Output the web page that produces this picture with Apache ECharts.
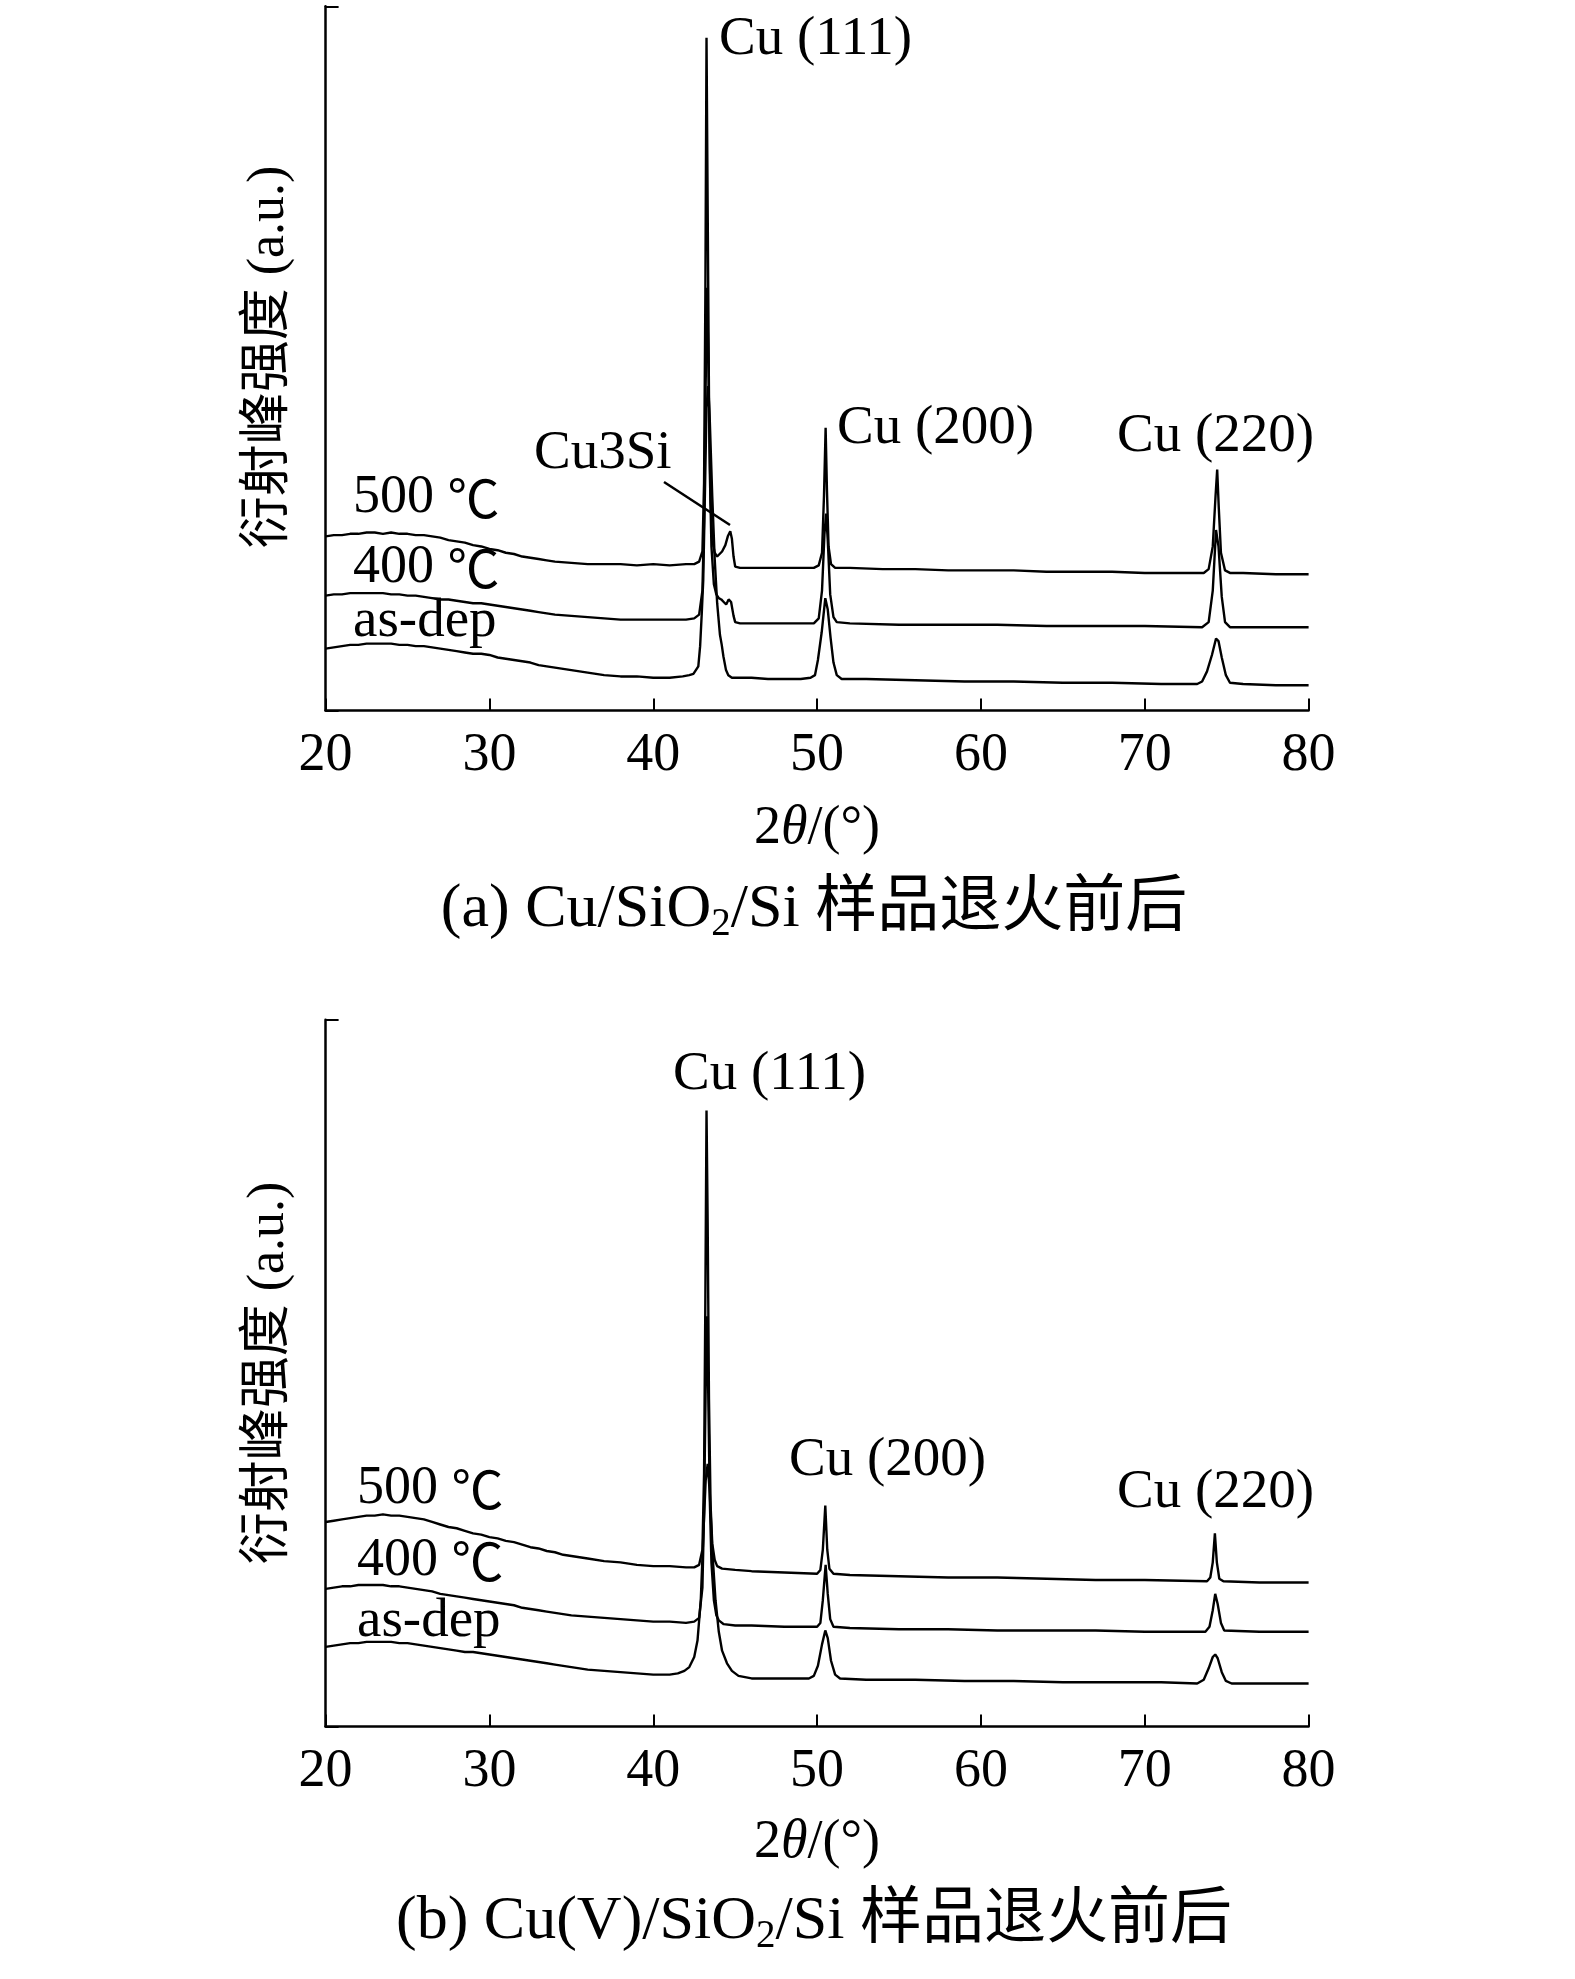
<!DOCTYPE html>
<html>
<head>
<meta charset="utf-8">
<script src="https://cdn.jsdelivr.net/npm/echarts@6/dist/echarts.min.js"></script>
<style>
html,body{margin:0;padding:0;background:#fff;}
#c{width:1575px;height:1979px;}
</style>
</head>
<body>
<div id="c"></div>
<script>
// ---- data: [2theta (deg), intensity (a.u., stacked offset as drawn)] ----
const X_TICKS = [20, 30, 40, 50, 60, 70, 80];

// (a) Cu/SiO2/Si
const A_500 = [
[20,138],[20.5,139],[21,139],[21.5,140],[22,140],[22.5,141],[23,141],[23.5,140],[24,141],[24.5,140],
[25,140],[25.5,139],[26,139],[26.5,138],[27,137],[27.5,135],[28,134],[28.5,133],[29,131],[29.5,130],
[30,128],[30.5,127],[31,125],[31.5,124],[32,122],[32.5,121],[33,120],[33.5,119],[34,118],[35,117],
[36,116],[37,116],[38,116],[39,115],[40,116],[41,115],[42,116],[42.5,116],[42.8,118],[43.0,126],
[43.1,180],[43.18,330],[43.25,533],[43.32,400],[43.4,250],[43.5,165],[43.6,135],[43.75,125],[43.9,122],
[44.0,123],[44.2,126],[44.4,131],[44.55,138],[44.7,142],[44.8,136],[44.9,122],[45.0,114],[45.3,113],
[46,113],[47,113],[48,113],[49,113],[49.8,113],[50.1,115],[50.3,125],[50.42,170],[50.52,224],[50.6,175],
[50.7,130],[50.85,116],[51.1,113],[52,113],[54,112],[56,112],[58,111],[60,111],[62,111],[64,110],
[66,110],[68,110],[70,109],[72,109],[73.6,109],[73.9,112],[74.15,130],[74.32,170],[74.42,191],[74.52,160],
[74.65,125],[74.9,111],[75.2,109],[76,109],[78,108],[80,108]
];
const A_400 = [
[20,91],[20.5,92],[21,92],[21.5,93],[22,93],[22.5,93],[23,93],[23.5,93],[24,92],[24.5,92],
[25,91],[25.5,91],[26,90],[26.5,89],[27,88],[27.5,88],[28,87],[28.5,86],[29,85],[29.5,85],
[30,84],[30.5,83],[31,82],[31.5,81],[32,80],[32.5,79],[33,78],[33.5,77],[34,76],[35,75],
[36,74],[37,73],[38,72],[39,72],[40,72],[41,72],[42,72],[42.5,73],[42.8,76],[43.0,95],
[43.1,150],[43.2,260],[43.28,335],[43.36,280],[43.45,190],[43.55,130],[43.7,100],[43.85,92],[44.0,89],
[44.15,88],[44.3,86],[44.45,84],[44.6,88],[44.75,86],[44.9,75],[45.0,70],[45.3,69],[46,69],[48,69],
[49.8,69],[50.1,73],[50.3,95],[50.45,140],[50.55,156],[50.65,135],[50.8,92],[51.0,74],[51.2,70],[52,69],
[55,68],[58,68],[61,68],[64,67],[67,67],[70,67],[73.5,66],[73.9,70],[74.15,95],[74.35,143],
[74.5,130],[74.7,90],[74.9,70],[75.2,66],[77,66],[80,66]
];
const A_ASDEP = [
[20,49],[20.5,50],[21,51],[21.5,52],[22,52],[22.5,53],[23,53],[23.5,53],[24,53],[24.5,52],
[25,52],[25.5,51],[26,51],[26.5,50],[27,49],[27.5,48],[28,47],[28.5,46],[29,45],[29.5,45],
[30,44],[30.5,42],[31,41],[31.5,40],[32,39],[32.5,38],[33,36],[33.5,35],[34,34],[35,32],
[36,30],[37,28],[38,27],[39,27],[40,26],[41,26],[41.8,27],[42.2,28],[42.45,29],[42.75,35],
[42.86,51],[42.96,77],[43.05,103],[43.15,170],[43.25,240],[43.35,257],[43.45,230],[43.6,170],[43.75,120],
[43.9,85],[44.07,60],[44.18,52],[44.28,43],[44.44,32],[44.58,28],[44.8,26],[45.2,26],[46,26],[47,25],
[48,25],[49,25],[49.6,26],[49.87,28],[50.05,40],[50.28,62],[50.5,89],[50.65,80],[50.82,58],[51.0,38],
[51.2,28],[51.5,25],[53,25],[56,24],[59,23],[62,23],[65,22],[68,22],[71,21],[73.2,21],
[73.5,23],[73.8,31],[74.1,44],[74.35,57],[74.5,55],[74.7,42],[74.95,28],[75.2,22],[76,21],[78,20],[80,20]
];

// (b) Cu(V)/SiO2/Si
const B_500 = [
[20,162],[20.5,163],[21,164],[21.5,165],[22,166],[22.5,167],[23,167],[23.5,168],[24,167],[24.5,167],
[25,166],[25.5,165],[26,164],[26.5,162],[27,160],[27.5,158],[28,157],[28.5,155],[29,153],[29.5,152],
[30,150],[30.5,149],[31,147],[31.5,146],[32,144],[32.5,142],[33,141],[33.5,139],[34,138],[34.5,136],
[35,135],[36,133],[37,131],[38,130],[39,128],[40,127],[41,127],[42,126],[42.5,126],[42.8,128],
[43.0,140],[43.1,200],[43.18,340],[43.25,488],[43.32,400],[43.4,260],[43.5,175],[43.6,145],[43.75,132],
[43.9,127],[44.2,125],[45,124],[46,123],[48,122],[50,121],[50.2,124],[50.35,140],[50.5,175],[50.62,140],
[50.75,125],[51,121],[52,120],[55,119],[58,118],[61,118],[64,117],[67,116],[70,116],[73.8,115],
[74.0,118],[74.15,130],[74.28,153],[74.4,130],[74.55,117],[74.8,115],[77,114],[80,114]
];
const B_400 = [
[20,109],[20.5,110],[21,111],[21.5,111],[22,112],[22.5,112],[23,112],[23.5,112],[24,111],[24.5,111],
[25,110],[25.5,109],[26,108],[26.5,107],[27,105],[27.5,104],[28,103],[28.5,102],[29,101],[29.5,100],
[30,99],[30.5,98],[31,97],[31.5,96],[32,94],[32.5,93],[33,92],[33.5,91],[34,90],[34.5,89],
[35,88],[36,87],[37,86],[38,85],[39,84],[40,83],[41,83],[42,82],[42.5,83],[42.8,86],
[43.0,110],[43.1,170],[43.2,270],[43.28,325],[43.36,260],[43.45,180],[43.55,130],[43.7,100],[43.85,88],
[44.0,84],[44.3,81],[45,80],[46,80],[48,79],[50,79],[50.2,82],[50.35,100],[50.52,128],[50.65,105],
[50.8,85],[51.0,79],[52,78],[55,77],[58,77],[61,76],[64,76],[67,76],[70,75],[73.7,75],
[73.95,79],[74.15,92],[74.3,105],[74.45,97],[74.65,82],[74.85,76],[77,75],[80,75]
];
const B_ASDEP = [
[20,63],[20.5,64],[21,65],[21.5,66],[22,66],[22.5,67],[23,67],[23.5,67],[24,67],[24.5,66],
[25,66],[25.5,65],[26,64],[26.5,63],[27,62],[27.5,61],[28,60],[28.5,59],[29,59],[29.5,58],
[30,57],[30.5,56],[31,55],[31.5,54],[32,53],[32.5,52],[33,51],[33.5,50],[34,49],[34.5,48],
[35,47],[36,45],[37,44],[38,43],[39,42],[40,41],[41,41],[41.5,42],[41.9,44],[42.2,47],
[42.5,55],[42.7,68],[42.9,100],[43.05,150],[43.2,195],[43.32,208],[43.45,185],[43.6,140],[43.8,100],
[44.0,75],[44.2,60],[44.5,50],[44.8,44],[45.2,40],[46,38],[48,38],[49.5,38],[49.8,40],[50.05,48],
[50.3,65],[50.5,76],[50.65,70],[50.85,52],[51.1,41],[51.4,38],[53,37],[56,37],[59,36],[62,36],
[65,35],[68,35],[71,35],[73.2,34],[73.6,37],[73.9,46],[74.15,55],[74.3,57],[74.45,54],[74.7,43],
[74.95,36],[75.3,34],[77,34],[80,34]
];

// ---- chart ----
const FONT = "'Liberation Serif', 'Noto Sans CJK SC', serif";
const CJK = "'Noto Sans CJK SC', sans-serif";
const chart = echarts.init(document.getElementById('c'), null, {renderer: 'canvas'});

function xAxisCfg(gi) {
  return {
    gridIndex: gi, type: 'value',
    min: X_TICKS[0], max: X_TICKS[X_TICKS.length - 1], interval: 10,
    axisLine: {show: true, onZero: false, lineStyle: {color: '#000', width: 2.5}},
    axisTick: {show: true, inside: true, length: 12, lineStyle: {color: '#000', width: 2}},
    axisLabel: {show: true, color: '#000', fontSize: 54, fontFamily: FONT, margin: 18},
    splitLine: {show: false}
  };
}
function yAxisCfg(gi, max) {
  return {
    gridIndex: gi, type: 'value', min: 0, max: max, interval: max,
    axisLine: {show: true, onZero: false, lineStyle: {color: '#000', width: 2.5}},
    axisTick: {show: true, inside: true, length: 13, lineStyle: {color: '#000', width: 2}},
    axisLabel: {show: false},
    splitLine: {show: false}
  };
}
function lineSeries(data, xi, name) {
  return {
    type: 'line', name: name, xAxisIndex: xi, yAxisIndex: xi, data: data,
    showSymbol: false, symbol: 'none', smooth: false,
    lineStyle: {color: '#000', width: 2.4}, silent: true
  };
}
function txt(x, y, text, size, align, extra) {
  return Object.assign({
    type: 'text', x: x, y: y, silent: true,
    style: {text: text, fontSize: size, fontFamily: FONT, fill: '#000', align: align || 'left', verticalAlign: 'middle'}
  }, extra || {});
}
const tempRich = {
  m: {fontSize: 54, fontFamily: FONT},
  c: {fontSize: 52, fontFamily: CJK}
};
function tempTxt(x, y, t) {
  return {type: 'text', x: x, y: y, silent: true,
    style: {text: '{m|' + t + ' }{c|℃}', rich: tempRich, fill: '#000', align: 'left', verticalAlign: 'middle'}};
}
const capRich = {
  m: {fontSize: 62, fontFamily: FONT, lineHeight: 68, verticalAlign: 'middle'},
  s: {fontSize: 39, fontFamily: FONT, lineHeight: 37, verticalAlign: 'bottom'}
};
const thetaRich = {
  m: {fontSize: 54, fontFamily: FONT},
  i: {fontSize: 54, fontFamily: FONT, fontStyle: 'italic'}
};

chart.setOption({
  animation: false,
  backgroundColor: '#fff',
  grid: [
    {left: 325.6, top: 6.3, width: 983, height: 704.2},
    {left: 325.6, top: 1019.7, width: 983, height: 706.7}
  ],
  xAxis: [xAxisCfg(0), xAxisCfg(1)],
  yAxis: [yAxisCfg(0, 558), yAxisCfg(1, 560)],
  series: [
    lineSeries(A_500, 0, '500 ℃'), lineSeries(A_400, 0, '400 ℃'), lineSeries(A_ASDEP, 0, 'as-dep'),
    lineSeries(B_500, 1, '500 ℃'), lineSeries(B_400, 1, '400 ℃'), lineSeries(B_ASDEP, 1, 'as-dep')
  ],
  graphic: [
    // panel (a) annotations
    txt(719, 40, 'Cu (111)', 55),
    txt(534, 454, 'Cu3Si', 55),
    txt(837, 429, 'Cu (200)', 55),
    txt(1117, 437, 'Cu (220)', 55),
    tempTxt(353, 498, '500'),
    tempTxt(353, 568, '400'),
    txt(353, 622, 'as-dep', 55),
    {type: 'line', silent: true, shape: {x1: 664, y1: 482, x2: 730, y2: 525}, style: {stroke: '#000', lineWidth: 2.5}},
    {type: 'text', x: 817, y: 829, silent: true, style: {text: '{m|2}{i|θ}{m|/(°)}', rich: thetaRich, fill: '#000', align: 'center', verticalAlign: 'middle'}},
    {type: 'text', x: 814, y: 910, silent: true, style: {text: '{m|(a) Cu/SiO}{s|2}{m|/Si 样品退火前后}', rich: capRich, fill: '#000', align: 'center', verticalAlign: 'middle'}},
    txt(269, 357, '衍射峰强度 (a.u.)', 52, 'center', {rotation: Math.PI / 2}),
    // panel (b) annotations
    txt(673, 1075, 'Cu (111)', 55),
    txt(789, 1461, 'Cu (200)', 55),
    txt(1117, 1493, 'Cu (220)', 55),
    tempTxt(357, 1489, '500'),
    tempTxt(357, 1561, '400'),
    txt(357, 1622, 'as-dep', 55),
    {type: 'text', x: 817, y: 1843, silent: true, style: {text: '{m|2}{i|θ}{m|/(°)}', rich: thetaRich, fill: '#000', align: 'center', verticalAlign: 'middle'}},
    {type: 'text', x: 814, y: 1922, silent: true, style: {text: '{m|(b) Cu(V)/SiO}{s|2}{m|/Si 样品退火前后}', rich: capRich, fill: '#000', align: 'center', verticalAlign: 'middle'}},
    txt(269, 1373, '衍射峰强度 (a.u.)', 52, 'center', {rotation: Math.PI / 2})
  ]
});
</script>
</body>
</html>
